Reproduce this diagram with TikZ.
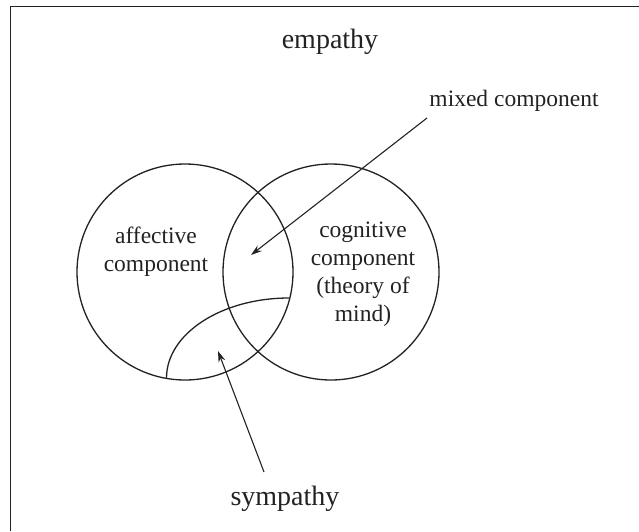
\documentclass[tikz,border=0pt]{standalone}
\usepackage{fontspec}
\setmainfont{Liberation Serif}
\usetikzlibrary{arrows.meta}
\definecolor{ink}{HTML}{222222}
\begin{document}
\begin{tikzpicture}[x=1pt,y=-1pt,
  ln/.style={draw=ink,line width=1.3pt},
  venn/.style={ln,circle,minimum size=216pt,inner sep=0pt},
  lbl/.style={text=ink,font=\fontsize{23.5}{28}\selectfont,align=center,inner sep=0pt},
  big/.style={text=ink,font=\fontsize{28}{32}\selectfont,inner sep=0pt},
  pointer/.style={draw=ink,line width=1.1pt,-{Stealth[length=11pt,width=7pt]}}]
\useasboundingbox (0,0) rectangle (639,531);
\draw[ink,line width=1.6pt] (10.5,531) -- (10.5,6.5) -- (639,6.5);
\node[venn] (aff) at (185,272) {};
\node[venn] (cog) at (331,272) {};
\draw[ln] (166.5,378) arc[start angle=180,end angle=90,x radius=122.5pt,y radius=80pt];
\node[big] (emp) at (330,42) {empathy};
\node[lbl] (mix) at (514,101) {mixed component};
\node[lbl] (afft) at (156,252) {affective\\component};
\node[lbl] (cogt) at (363,274) {cognitive\\component\\(theory of\\mind)};
\node[big] (sym) at (285,499) {sympathy};
\coordinate (mixtip) at (251,255);
\coordinate (mixtail) at (427,118);
\coordinate (symtip) at (218,351);
\coordinate (symtail) at (264,472);
\draw[pointer] (mixtail) -- (mixtip);
\draw[pointer] (symtail) -- (symtip);
\end{tikzpicture}
\end{document}
